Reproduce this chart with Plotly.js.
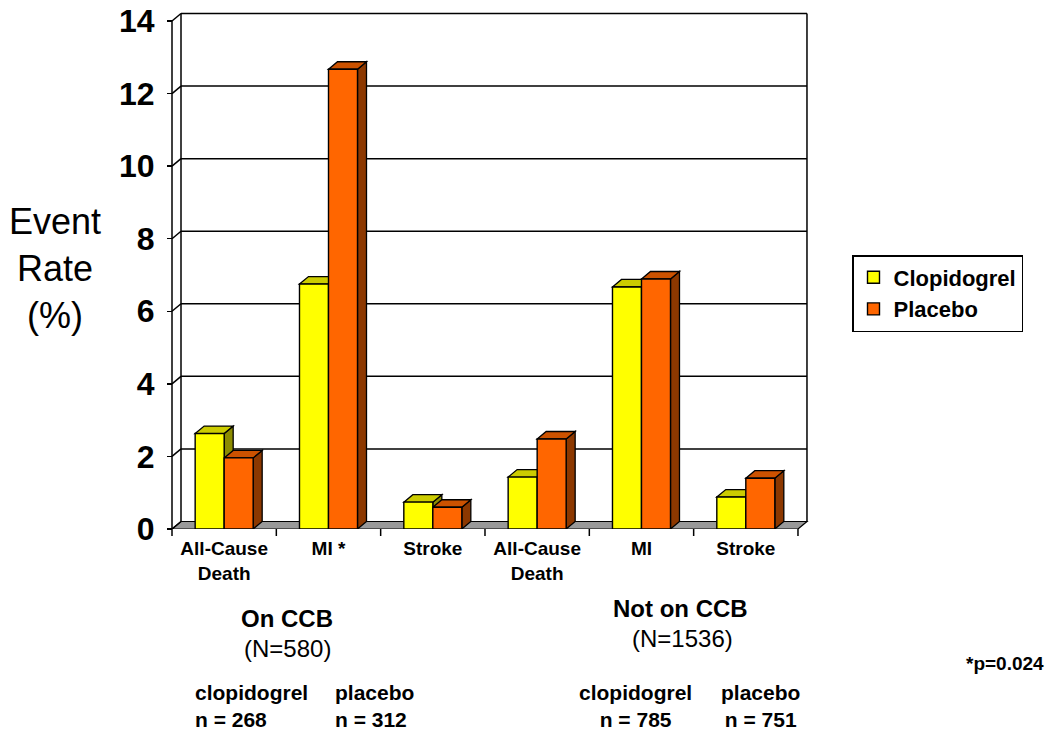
<!DOCTYPE html>
<html><head><meta charset="utf-8">
<script src="https://cdn.plot.ly/plotly-3.0.1.min.js"></script>
<style>body{margin:0;background:#fff}#chart{width:1050px;height:734px}</style>
</head><body><div id="chart"></div>
<script>
// ---- data ----
const categories = ["All-Cause<br>Death", "MI *", "Stroke", "All-Cause<br>Death", "MI", "Stroke"];
const xIndex = [0, 1, 2, 3, 4, 5];
const clopidogrel = [2.63, 6.75, 0.74, 1.43, 6.67, 0.88];
const placebo = [1.96, 12.67, 0.6, 2.48, 6.89, 1.4];
const seriesNames = ["Clopidogrel", "Placebo"];
const yTicks = [0, 2, 4, 6, 8, 10, 12, 14];

// ---- geometry ----
const W = 1050, H = 734, L = 160, R = 815, T = 10, B = 529;
const FRONT_X = 172, FRONT_TOP = 21;
const xs = 104.33;
const ys = (B - FRONT_TOP) / 14;
const xmin = -0.5 - (FRONT_X - L) / xs, xmax = xmin + (R - L) / xs;
const ymax = (B - T) / ys;
const dx = 9 / xs, dy = 7.5 / ys;
const bargap = 0.444, w = (1 - bargap) / 2;
const xL = -0.5, xR = 5.5;
const FONT = '"Liberation Sans", Arial, sans-serif';
const ax = p => (p - L) / (R - L);
const ay = p => (B - p) / (B - T);

const colors = {front: ["#FFFF00", "#FF6600"], top: ["#CCCC00", "#CC5200"], side: ["#8C8C00", "#8C3800"]};

const shapes = [];
const line = (x0, y0, x1, y1, layer) => shapes.push({type: 'line', xref: 'x', yref: 'y', x0, y0, x1, y1, layer: layer || 'below', line: {color: '#000', width: 1.5}});
// floor
shapes.push({type: 'path', xref: 'x', yref: 'y', layer: 'below',
  path: `M${xL},0 L${xL + dx},${dy} L${xR + dx},${dy} L${xR},0 Z`,
  fillcolor: '#999999', line: {color: '#000', width: 1.2}});
// back wall gridlines & left wall diagonals
yTicks.forEach(v => {
  if (v > 0) line(xL + dx, v + dy, xR + dx, v + dy);
  line(xL, v, xL + dx, v + dy);
});
line(xL + dx, dy, xL + dx, 14 + dy);
line(xR + dx, dy, xR + dx, 14 + dy);
line(xL, 0, xL, 14);
// bar 3D faces
[clopidogrel, placebo].forEach((vals, s) => {
  vals.forEach((v, c) => {
    const x0 = c - w + s * w, x1 = x0 + w;
    shapes.push({type: 'path', xref: 'x', yref: 'y', layer: 'below',
      path: `M${x1},0 L${x1 + dx},${dy} L${x1 + dx},${v + dy} L${x1},${v} Z`,
      fillcolor: colors.side[s], line: {color: '#000', width: 1.3}});
    shapes.push({type: 'path', xref: 'x', yref: 'y', layer: 'below',
      path: `M${x0},${v} L${x0 + dx},${v + dy} L${x1 + dx},${v + dy} L${x1},${v} Z`,
      fillcolor: colors.top[s], line: {color: '#000', width: 1.3}});
  });
});
// category boundary ticks
for (let k = 0; k <= 6; k++) {
  shapes.push({type: 'line', xref: 'x', yref: 'paper', ysizemode: 'pixel', yanchor: 0,
    x0: k - 0.5, x1: k - 0.5, y0: 0, y1: -7, line: {color: '#000', width: 1.5}});
}

const traces = [clopidogrel, placebo].map((vals, s) => ({
  type: 'bar', x: xIndex, y: vals, name: seriesNames[s], legendgroup: 'g' + s,
  marker: {color: colors.front[s], line: {color: '#000', width: 1.4}},
  hoverinfo: 'y'
}));

const ann = (text, x, y, size, bold, opts) => Object.assign({
  text, x: ax(x), y: ay(y), xref: 'paper', yref: 'paper', showarrow: false,
  xanchor: 'center', yanchor: 'middle',
  font: {family: FONT, size, color: '#000', weight: bold ? 'bold' : 'normal'}
}, opts || {});

const annotations = [
  ann("Event<br>Rate<br>(%)", 55, 268, 36, false),
  ann("On CCB", 287, 618, 24, true),
  ann("(N=580)", 287, 648, 24, false),
  ann("Not on CCB", 680, 608, 24, true),
  ann("(N=1536)", 682, 638, 24, false),
  ann("clopidogrel<br>n = 268", 193, 706, 21, true, {xanchor: 'left', align: 'left'}),
  ann("placebo<br>n = 312", 333, 706, 21, true, {xanchor: 'left', align: 'left'}),
  ann("clopidogrel<br>n = 785", 635, 706, 21, true),
  ann("placebo<br>n = 751", 760, 706, 21, true),
  ann("*p=0.024", 1005, 663, 19, true)
];

const layout = {
  width: W, height: H, margin: {l: L, r: W - R, t: T, b: H - B},
  paper_bgcolor: '#fff', plot_bgcolor: '#fff',
  font: {family: FONT, color: '#000'},
  barmode: 'group', bargap: bargap, bargroupgap: 0,
  xaxis: {range: [xmin, xmax], tickvals: xIndex, ticktext: categories, ticks: '',
    showgrid: false, zeroline: false, showline: false, fixedrange: true,
    tickfont: {family: FONT, size: 19, weight: 'bold', color: '#000'}, ticklabelstandoff: 6},
  yaxis: {range: [0, ymax], tickvals: yTicks, ticks: 'outside', ticklen: 5, tickwidth: 1.5, tickcolor: '#000',
    showgrid: false, zeroline: false, showline: false, anchor: 'free', position: ax(FRONT_X), fixedrange: true,
    tickfont: {family: FONT, size: 32, weight: 'bold', color: '#000'}, ticklabelstandoff: 6},
  legend: {x: ax(852), y: ay(255), xanchor: 'left', yanchor: 'top', bgcolor: '#fff',
    bordercolor: '#000', borderwidth: 1.5, tracegroupgap: 10, traceorder: 'normal',
    font: {family: FONT, size: 22, weight: 'bold', color: '#000'}},
  shapes, annotations
};

Plotly.newPlot('chart', traces, layout, {displayModeBar: false, staticPlot: true});
</script></body></html>
